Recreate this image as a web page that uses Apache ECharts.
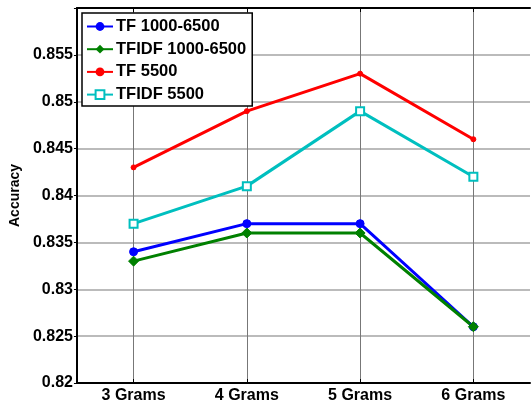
<!DOCTYPE html>
<html>
<head>
<meta charset="utf-8">
<script src="https://cdn.jsdelivr.net/npm/echarts@6/dist/echarts.min.js"></script>
<style>
html,body{margin:0;padding:0;background:#fff;}
#chart{width:531px;height:405px;}
</style>
</head>
<body>
<div id="chart"></div>
<script>
var categories = ['3 Grams', '4 Grams', '5 Grams', '6 Grams'];
var tf1000_6500 = [0.834, 0.837, 0.837, 0.826];
var tfidf1000_6500 = [0.833, 0.836, 0.836, 0.826];
var tf5500 = [0.843, 0.849, 0.853, 0.846];
var tfidf5500 = [0.837, 0.841, 0.849, 0.842];
var seriesNames = ['TF 1000-6500', 'TFIDF 1000-6500', 'TF 5500', 'TFIDF 5500'];
var yTicks = [0.82, 0.825, 0.83, 0.835, 0.84, 0.845, 0.85, 0.855];

var FONT = 'Liberation Sans, Arial, sans-serif';
var chart = echarts.init(document.getElementById('chart'));
function mk(name, data, color, symbol, size, extra) {
  var s = {
    name: name, type: 'line', data: data,
    symbol: symbol, symbolSize: size,
    lineStyle: {color: color, width: 3},
    itemStyle: {color: color, borderColor: color},
    z: 5
  };
  if (extra) Object.assign(s.itemStyle, extra);
  return s;
}
chart.setOption({
  animation: false,
  backgroundColor: '#fff',
  grid: {left: 76, top: 8, right: 1, bottom: 22, containLabel: false},
  legend: {
    orient: 'vertical', left: 82, top: 13,
    padding: [5, 6, 3, 4],
    backgroundColor: '#fff', borderColor: '#000', borderWidth: 1.5,
    itemWidth: 26, itemHeight: 11, itemGap: 5.7,
    textStyle: {fontFamily: FONT, fontSize: 16.5, fontWeight: 'bold', color: '#000', padding: [0,0,0,-2]},
    data: seriesNames
  },
  xAxis: [{
    type: 'category', data: categories, boundaryGap: true,
    axisLine: {lineStyle: {color: '#000', width: 2}},
    axisTick: {show: true, inside: true, alignWithLabel: true, length: 4, lineStyle: {color: '#000'}},
    axisLabel: {fontFamily: FONT, fontSize: 16, fontWeight: 'bold', color: '#000', margin: 5},
    splitLine: {show: true, alignWithLabel: true, lineStyle: {color: '#777', width: 1}}
  }, {
    type: 'category', data: categories, boundaryGap: true, position: 'top',
    axisLine: {show: true, lineStyle: {color: '#000', width: 2}},
    axisTick: {show: true, inside: true, alignWithLabel: true, length: 4, lineStyle: {color: '#000'}},
    axisLabel: {show: false}, splitLine: {show: false}
  }],
  yAxis: {
    type: 'value', min: 0.82, max: 0.86, interval: 0.005,
    name: 'Accuracy', nameLocation: 'middle', nameGap: 51,
    nameTextStyle: {fontFamily: FONT, fontSize: 14, fontWeight: 'bold', color: '#000'},
    axisLine: {show: true, lineStyle: {color: '#000', width: 2}},
    axisTick: {show: true, inside: false, length: 3, lineStyle: {color: '#000'}},
    axisLabel: {fontFamily: FONT, fontSize: 16, fontWeight: 'bold', color: '#000', margin: 4,
      formatter: function (v) {
        for (var i = 0; i < yTicks.length; i++) if (Math.abs(yTicks[i] - v) < 1e-9) return String(yTicks[i]);
        return '';
      }},
    splitLine: {show: true, lineStyle: {color: '#bbb', width: 2}}
  },
  series: [
    mk(seriesNames[0], tf1000_6500, '#0000ff', 'circle', 8),
    mk(seriesNames[1], tfidf1000_6500, '#008000', 'diamond', 10),
    mk(seriesNames[2], tf5500, '#ff0000', 'circle', 5),
    mk(seriesNames[3], tfidf5500, '#00bfbf', 'rect', 8, {color: '#fff', borderWidth: 2})
  ]
});
</script>
</body>
</html>
